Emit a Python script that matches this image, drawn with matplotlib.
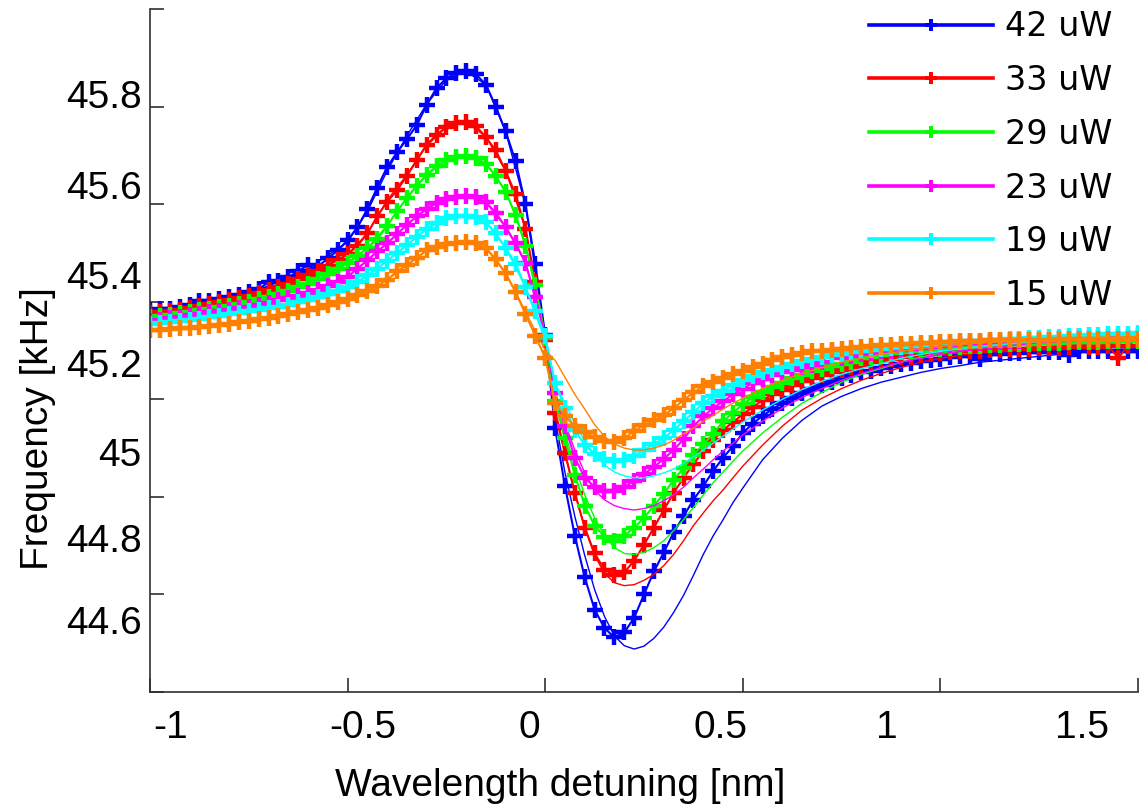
import numpy as np
import matplotlib
matplotlib.use("Agg")
import matplotlib.pyplot as plt
from matplotlib.lines import Line2D

plt.rcParams['font.family'] = ['Liberation Sans', 'DejaVu Sans']

# measured points, 0.025 nm apart
x_data = np.round(np.linspace(-1.0, 1.5, 101), 3)

blue_data = [45.382, 45.385, 45.386, 45.390, 45.393, 45.402, 45.402, 45.405, 45.410, 45.413,
             45.420, 45.426, 45.440, 45.443, 45.450, 45.462, 45.476, 45.472, 45.489, 45.505,
             45.526, 45.553, 45.590, 45.634, 45.676, 45.706, 45.733, 45.762, 45.803, 45.838,
             45.858, 45.869, 45.873, 45.866, 45.845, 45.800, 45.749, 45.688, 45.600, 45.478,
             45.331,
             45.141, 45.022, 44.920, 44.835, 44.769, 44.731, 44.712, 44.722, 44.752, 44.800,
             44.847, 44.886, 44.927, 44.960, 44.994, 45.022, 45.053, 45.080, 45.104, 45.131,
             45.150, 45.166, 45.180, 45.192, 45.203, 45.213, 45.222, 45.230, 45.236, 45.243,
             45.249, 45.255, 45.259, 45.264, 45.268, 45.272, 45.275, 45.278, 45.281, 45.283,
             45.286, 45.288, 45.289, 45.283, 45.292, 45.293, 45.294, 45.295, 45.296, 45.296,
             45.297, 45.297, 45.290, 45.298, 45.299, 45.299, 45.299, 45.300, 45.300, 45.300]
red_data = [45.376, 45.378, 45.381, 45.384, 45.388, 45.392, 45.395, 45.399, 45.403, 45.407,
            45.412, 45.418, 45.424, 45.431, 45.437, 45.446, 45.454, 45.463, 45.474, 45.486,
            45.497, 45.515, 45.540, 45.575, 45.605, 45.628, 45.658, 45.690, 45.722, 45.742,
            45.758, 45.766, 45.769, 45.760, 45.737, 45.710, 45.668, 45.620, 45.550, 45.440,
            45.322,
            45.171, 45.090, 45.008, 44.937, 44.884, 44.851, 44.839, 44.845, 44.869, 44.902,
            44.937, 44.973, 45.008, 45.039, 45.067, 45.094, 45.116, 45.137, 45.153, 45.169,
            45.184, 45.198, 45.210, 45.220, 45.229, 45.237, 45.243, 45.249, 45.255, 45.261,
            45.267, 45.271, 45.276, 45.280, 45.282, 45.286, 45.288, 45.290, 45.292, 45.294,
            45.296, 45.298, 45.299, 45.300, 45.301, 45.302, 45.303, 45.304, 45.304, 45.305,
            45.306, 45.306, 45.307, 45.330, 45.308, 45.308, 45.309, 45.285, 45.310, 45.325]
green_data = [45.369, 45.371, 45.373, 45.376, 45.379, 45.382, 45.385, 45.389, 45.392, 45.396,
              45.400, 45.405, 45.410, 45.416, 45.421, 45.430, 45.437, 45.446, 45.456, 45.468,
              45.480, 45.494, 45.510, 45.528, 45.556, 45.585, 45.613, 45.638, 45.660, 45.678,
              45.690, 45.697, 45.699, 45.694, 45.683, 45.657, 45.625, 45.578, 45.515, 45.435,
              45.326,
              45.196, 45.120, 45.045, 44.982, 44.941, 44.918, 44.910, 44.920, 44.937, 44.957,
              44.982, 45.006, 45.035, 45.059, 45.086, 45.108, 45.129, 45.155, 45.172, 45.190,
              45.204, 45.215, 45.225, 45.234, 45.243, 45.250, 45.257, 45.263, 45.268, 45.272,
              45.277, 45.284, 45.286, 45.290, 45.294, 45.296, 45.298, 45.300, 45.302, 45.304,
              45.306, 45.308, 45.309, 45.310, 45.311, 45.312, 45.313, 45.313, 45.314, 45.315,
              45.315, 45.316, 45.317, 45.317, 45.318, 45.318, 45.319, 45.319, 45.320, 45.320]
magenta_data = [45.361, 45.363, 45.366, 45.369, 45.372, 45.375, 45.378, 45.381, 45.384, 45.387,
                45.390, 45.394, 45.398, 45.403, 45.407, 45.412, 45.418, 45.425, 45.432, 45.441,
                45.451, 45.468, 45.485, 45.503, 45.520, 45.538, 45.558, 45.575, 45.590, 45.603,
                45.611, 45.615, 45.616, 45.614, 45.604, 45.582, 45.553, 45.520, 45.480, 45.410,
                45.330,
                45.212, 45.145, 45.080, 45.039, 45.020, 45.012, 45.012, 45.020, 45.033, 45.047,
                45.061, 45.078, 45.096, 45.118, 45.145, 45.165, 45.182, 45.196, 45.210, 45.222,
                45.233, 45.241, 45.249, 45.255, 45.261, 45.267, 45.271, 45.276, 45.300, 45.284,
                45.288, 45.292, 45.294, 45.298, 45.300, 45.302, 45.304, 45.306, 45.308, 45.310,
                45.312, 45.314, 45.315, 45.316, 45.317, 45.318, 45.319, 45.320, 45.321, 45.321,
                45.322, 45.323, 45.324, 45.325, 45.325, 45.326, 45.327, 45.328, 45.328, 45.329]
cyan_data = [45.355, 45.357, 45.359, 45.361, 45.363, 45.365, 45.368, 45.371, 45.374, 45.377,
             45.380, 45.383, 45.387, 45.390, 45.394, 45.399, 45.404, 45.409, 45.415, 45.422,
             45.430, 45.441, 45.454, 45.468, 45.484, 45.500, 45.516, 45.533, 45.549, 45.562,
             45.571, 45.575, 45.576, 45.573, 45.563, 45.540, 45.510, 45.478, 45.430, 45.380,
             45.330,
             45.233, 45.182, 45.137, 45.106, 45.088, 45.078, 45.073, 45.076, 45.084, 45.096,
             45.108, 45.120, 45.137, 45.155, 45.173, 45.192, 45.206, 45.218, 45.229, 45.239,
             45.247, 45.255, 45.261, 45.267, 45.273, 45.278, 45.282, 45.286, 45.290, 45.292,
             45.296, 45.300, 45.302, 45.304, 45.306, 45.308, 45.310, 45.312, 45.314, 45.316,
             45.317, 45.318, 45.319, 45.320, 45.321, 45.322, 45.323, 45.324, 45.325, 45.326,
             45.327, 45.328, 45.329, 45.330, 45.331, 45.332, 45.333, 45.333, 45.334, 45.335]
orange_data = [45.341, 45.342, 45.344, 45.346, 45.347, 45.349, 45.351, 45.353, 45.355, 45.358,
               45.361, 45.364, 45.367, 45.371, 45.375, 45.379, 45.384, 45.388, 45.393, 45.399,
               45.405, 45.413, 45.422, 45.432, 45.445, 45.462, 45.475, 45.490, 45.505, 45.513,
               45.518, 45.521, 45.522, 45.520, 45.510, 45.487, 45.458, 45.420, 45.375, 45.330,
               45.285,
               45.192, 45.165, 45.145, 45.133, 45.122, 45.114, 45.112, 45.120, 45.135, 45.147,
               45.157, 45.167, 45.182, 45.198, 45.214, 45.227, 45.235, 45.243, 45.251, 45.259,
               45.267, 45.273, 45.280, 45.286, 45.290, 45.294, 45.298, 45.300, 45.302, 45.304,
               45.306, 45.308, 45.310, 45.312, 45.312, 45.314, 45.314, 45.316, 45.316, 45.318,
               45.318, 45.320, 45.320, 45.320, 45.321, 45.321, 45.321, 45.322, 45.322, 45.322,
               45.322, 45.323, 45.323, 45.323, 45.323, 45.324, 45.324, 45.324, 45.324, 45.324]

# fitted curves
x_fit = [-1.0, -0.9, -0.8, -0.7, -0.6, -0.5, -0.45, -0.4, -0.35, -0.3, -0.25, -0.2, -0.15, -0.1, -0.05, 0.0,
         0.025, 0.05, 0.075, 0.1, 0.125, 0.15, 0.175, 0.2, 0.225, 0.25,
         0.275, 0.3, 0.325, 0.35, 0.375, 0.4, 0.425, 0.45, 0.475, 0.5,
         0.55, 0.6, 0.65, 0.7, 0.75, 0.8, 0.85, 0.9, 0.95, 1.0,
         1.05, 1.1, 1.15, 1.2, 1.25, 1.3, 1.35, 1.4, 1.45, 1.5]
blue_fit = [45.378, 45.390, 45.408, 45.432, 45.468, 45.522, 45.585, 45.668, 45.740, 45.805, 45.855, 45.872, 45.845, 45.748, 45.598, 45.331,
            45.160, 45.050, 44.960, 44.880, 44.810, 44.755, 44.715, 44.695, 44.688, 44.694,
            44.710, 44.733, 44.763, 44.798, 44.839, 44.882, 44.920, 44.953, 44.988, 45.018,
            45.076, 45.120, 45.157, 45.186, 45.206, 45.222, 45.235, 45.245, 45.255, 45.263,
            45.269, 45.276, 45.280, 45.284, 45.288, 45.292, 45.296, 45.298, 45.302, 45.304]
red_fit = [45.374, 45.386, 45.402, 45.423, 45.454, 45.497, 45.540, 45.608, 45.660, 45.720, 45.758, 45.769, 45.738, 45.668, 45.550, 45.322,
           45.182, 45.090, 45.008, 44.937, 44.880, 44.843, 44.824, 44.818, 44.820, 44.829,
           44.841, 44.859, 44.882, 44.910, 44.941, 44.967, 44.992, 45.014, 45.039, 45.063,
           45.106, 45.145, 45.178, 45.202, 45.222, 45.239, 45.253, 45.265, 45.276, 45.284,
           45.290, 45.296, 45.300, 45.304, 45.306, 45.310, 45.312, 45.314, 45.316, 45.318]
green_fit = [45.367, 45.378, 45.391, 45.409, 45.436, 45.478, 45.510, 45.556, 45.613, 45.660, 45.690, 45.699, 45.683, 45.628, 45.520, 45.326,
             45.202, 45.131, 45.063, 45.004, 44.957, 44.920, 44.896, 44.884, 44.882, 44.886,
             44.896, 44.910, 44.931, 44.953, 44.978, 45.004, 45.029, 45.051, 45.073, 45.094,
             45.131, 45.163, 45.192, 45.214, 45.235, 45.251, 45.263, 45.276, 45.286, 45.294,
             45.300, 45.306, 45.310, 45.314, 45.316, 45.318, 45.320, 45.322, 45.324, 45.324]
magenta_fit = [45.359, 45.371, 45.384, 45.398, 45.418, 45.451, 45.485, 45.520, 45.558, 45.590, 45.611, 45.616, 45.604, 45.553, 45.480, 45.330,
               45.212, 45.151, 45.096, 45.049, 45.014, 44.994, 44.982, 44.976, 44.973, 44.976,
               44.982, 44.992, 45.004, 45.020, 45.039, 45.057, 45.076, 45.094, 45.110, 45.127,
               45.155, 45.182, 45.204, 45.222, 45.239, 45.253, 45.265, 45.276, 45.284, 45.292,
               45.298, 45.304, 45.308, 45.312, 45.316, 45.318, 45.320, 45.322, 45.324, 45.327]
cyan_fit = [45.353, 45.362, 45.373, 45.386, 45.403, 45.430, 45.452, 45.484, 45.516, 45.549, 45.571, 45.576, 45.563, 45.510, 45.430, 45.320,
            45.233, 45.192, 45.151, 45.114, 45.086, 45.065, 45.051, 45.043, 45.039, 45.039,
            45.043, 45.049, 45.057, 45.069, 45.082, 45.096, 45.110, 45.124, 45.139, 45.153,
            45.178, 45.200, 45.220, 45.237, 45.251, 45.263, 45.273, 45.284, 45.292, 45.298,
            45.304, 45.308, 45.312, 45.316, 45.318, 45.320, 45.322, 45.324, 45.327, 45.329]
orange_fit = [45.339, 45.347, 45.355, 45.367, 45.384, 45.405, 45.422, 45.445, 45.475, 45.505, 45.518, 45.522, 45.510, 45.458, 45.380, 45.300,
              45.280, 45.245, 45.210, 45.180, 45.148, 45.124, 45.108, 45.100, 45.096, 45.096,
              45.100, 45.106, 45.116, 45.129, 45.141, 45.155, 45.167, 45.180, 45.192, 45.202,
              45.222, 45.239, 45.253, 45.265, 45.276, 45.284, 45.292, 45.298, 45.304, 45.308,
              45.312, 45.316, 45.318, 45.320, 45.322, 45.324, 45.324, 45.327, 45.327, 45.329]

labels = ['42 uW', '33 uW', '29 uW', '23 uW', '19 uW', '15 uW']
colors = ['#0000ff', '#ff0000', '#00ff00', '#ff00ff', '#00ffff', '#ff8000']
series = [blue_data, red_data, green_data, magenta_data, cyan_data, orange_data]
fits = [blue_fit, red_fit, green_fit, magenta_fit, cyan_fit, orange_fit]

# tick marks and where the exported tick texts ended up
x_marks = [-1.0, -0.5, 0.0, 0.5, 1.0, 1.5]
y_marks = [44.6, 44.8, 45.0, 45.2, 45.4, 45.6, 45.8, 46.0]
x_label_pos = [-0.947, -0.462, -0.041, 0.444, 0.865, 1.358]
x_tick_text = ['-1', '-0.5', '0', '0.5', '1', '1.5']
y_label_pos = [45.826, 45.639, 45.455, 45.275, 45.092, 44.916, 44.747]
y_tick_text = ['45.8', '45.6', '45.4', '45.2', '45', '44.8', '44.6']

fig = plt.figure(figsize=(11.4, 8.07), dpi=100)
ax = fig.add_axes([150/1140, 115/807, 988/1140, 683/807])

for vals, fit, c in zip(series, fits, colors):
    ax.plot(x_data, vals, '-', color=c, lw=1.5, marker='+', ms=11, mew=3.2)
    ax.plot(x_fit, fit, '-', color=c, lw=1.0)

ax.set_xlim(-1.0, 1.5)
ax.set_ylim(44.6, 46.0)
ax.spines['top'].set_visible(False)
ax.spines['right'].set_visible(False)
for s in ['left', 'bottom']:
    ax.spines[s].set_color('#303030')
    ax.spines[s].set_linewidth(1.2)

ax.set_xticks(x_marks)
ax.set_yticks(y_marks)
ax.tick_params(which='major', direction='in', length=10, width=1.2, color='#303030',
               labelbottom=False, labelleft=False)
ax.set_xticks(x_label_pos, minor=True)
ax.set_xticklabels(x_tick_text, minor=True)
ax.set_yticks(y_label_pos, minor=True)
ax.set_yticklabels(y_tick_text, minor=True)
ax.tick_params(axis='x', which='minor', length=0, pad=13, labelsize=28)
ax.tick_params(axis='y', which='minor', length=0, pad=6, labelsize=28)

ax.set_xlabel('Wavelength detuning [nm]', fontsize=28)
ax.xaxis.set_label_coords(0.415, -0.112)
ax.set_ylabel('Frequency [kHz]', fontsize=28, va='center')
ax.yaxis.set_label_coords(-0.113, 0.386)

handles = [Line2D([], [], color=c, lw=2.6, marker='P', ms=9, mew=0) for c in colors]
ax.legend(handles, labels, loc='upper left', bbox_to_anchor=(869/1140, 1 - 10.5/807),
          bbox_transform=fig.transFigure, frameon=False, borderpad=0, borderaxespad=0,
          handlelength=3.72, handletextpad=0.36, labelspacing=0.62, numpoints=1,
          prop={'family': 'DejaVu Sans', 'size': 24})

fig.savefig('out.png', dpi=100)
